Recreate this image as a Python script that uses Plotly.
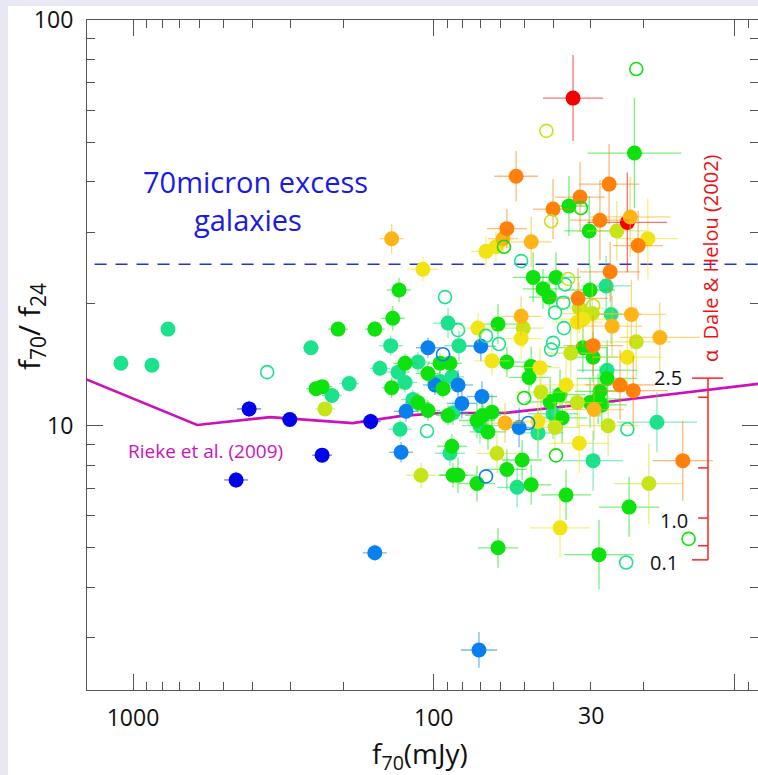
import numpy as np
import plotly.graph_objects as go

# ---------------- data ----------------
# f70 (mJy), f70/f24 ratio, colour class (alpha bin), filled(1)/open(0), error half-length in dex (x, y)
f70 = [1097, 865, 765, 411, 454, 358, 301, 235, 256, 246, 235, 218, 230, 208, 191, 162, 157, 151,
       138, 108.6, 130.4, 136.8, 91.7, 89.6, 139, 104.5, 93.1, 124.5, 131.4, 112.8, 124.5, 138, 104.5,
       95.3, 88.3, 99, 95.3, 93.1, 87, 117.2, 112.8, 104.5, 89.6, 123.6, 129.4, 105.3, 128.4, 88.3, 87,
       110.2, 86.3, 157, 70.7, 83, 71.3, 61.1, 67, 51.2, 50.4, 51.2, 60.7, 69.7, 82.4, 64, 57.1, 47.4,
       48.2, 44.3, 40.1, 40.7, 37.1, 39.5, 36.9, 46.7, 39.2, 35.7, 36.6, 43.3, 41.3, 33.1, 32.8, 29.5,
       29.7, 33.3, 31.9, 30.2, 26.7, 25.9, 25.7, 22.0, 25.5, 17.7, 21.2, 22.7, 35, 31.9, 29.5, 29.5,
       26.5, 26.5, 24, 21.7, 28, 28.4, 29.3, 30.2, 27.6, 33.3, 36.3, 38, 41, 44, 40.1, 37.4, 39.5, 45,
       45, 50, 69.1, 80.6, 83, 71.8, 70.2, 66, 64, 68.6, 57.9, 52, 48.5, 61.6, 50.8, 57.1, 39.2, 83,
       71.8, 67, 52.8, 47.4, 36.3, 32.8, 29.5, 14.85, 19.25, 18.1, 22.7, 26.3, 22.4, 38, 61.1, 28.2,
       22.9, 14.2, 21.2, 34.4, 42.2, 21.5, 53.2, 26.1, 32.6, 35.5, 32.4, 40.1, 28, 22.7, 22.2, 30.4,
       24.6, 40.7, 57.1, 58.8, 47.4, 67, 62.1, 58.4, 19.4, 20.9, 51.2, 86.3]
ratio = [14.25, 14.1, 17.3, 11.0, 7.35, 13.55, 10.36, 8.46, 15.57, 12.34, 12.48, 11.87, 11.0, 17.3,
         12.7, 10.24, 17.3, 13.85, 28.9, 24.3, 21.6, 18.4, 20.75, 17.9, 15.75, 15.57, 15.0, 14.25,
         13.55, 14.35, 12.78, 12.4, 13.45, 14.25, 14.25, 12.6, 12.85, 12.34, 13.2, 11.6, 11.4, 10.9,
         10.6, 10.85, 9.8, 9.7, 8.6, 8.55, 8.9, 7.55, 7.55, 4.86, 2.80, 17.2, 17.4, 17.8, 16.65, 18.6,
         17.4, 16.4, 15.9, 15.7, 15.75, 14.45, 14.35, 14.0, 13.15, 13.9, 16.0, 15.4, 20.1, 19.0, 17.4,
         23.2, 23.2, 23.0, 22.3, 21.75, 20.75, 20.6, 19.5, 19.75, 18.9, 18.0, 18.3, 21.6, 22.1, 23.95,
         18.8, 18.8, 17.6, 16.5, 16.1, 14.75, 15.1, 15.57, 15.75, 14.75, 13.7, 13.08, 12.6, 12.2,
         12.15, 11.65, 10.96, 11.4, 11.25, 11.4, 12.6, 11.93, 11.45, 12.1, 10.7, 10.45, 9.9, 10.24,
         9.6, 11.7, 11.8, 11.35, 12.6, 10.3, 10.0, 9.65, 10.8, 10.6, 10.15, 9.9, 10.15, 8.55, 8.23,
         7.8, 8.45, 7.55, 7.2, 7.5, 7.05, 7.15, 6.75, 9.05, 8.2, 8.2, 7.2, 10.2, 9.8, 10.0, 6.3, 5.6,
         5.0, 4.81, 4.6, 5.26, 75.7, 64.2, 53.3, 47.0, 41.2, 39.4, 36.6, 34.8, 34.4, 34.2, 32.1, 31.7,
         32.7, 30.2, 30.2, 31.9, 30.6, 28.9, 28.4, 26.9, 27.6, 27.6, 28.9, 27.8, 25.45, 10.75]
cls = ["T", "T", "T", "B", "B", "T", "B", "B", "T", "G", "G", "T", "Y1", "G", "T", "B", "G", "T",
       "O1", "Y", "G", "G", "T", "T", "T", "A", "A", "G", "T", "T", "T", "G", "G",
       "G", "G", "A", "T", "G", "T", "T", "G", "G", "G", "A", "T", "T", "A", "T", "G",
       "Y1", "G", "A", "A", "T", "Y", "G", "T", "O1", "Y1", "Y", "T", "A", "T", "Y", "G", "G",
       "G", "Y", "T", "T", "T", "T", "T", "G", "G", "Y1", "T", "G", "G", "O", "Y1", "Y1",
       "Y1", "Y", "Y", "G", "T", "O", "T", "O1", "O1", "O1", "Y1", "Y", "Y1", "G", "O", "G",
       "T", "G", "O", "O", "G", "G", "O1", "G", "G", "Y1", "Y", "G", "G", "Y1", "T", "G", "Y1", "Y",
       "T", "G", "A", "A", "A", "G", "T", "G", "G", "G", "O1", "A", "A", "Y1", "G", "G", "G", "G",
       "G", "A", "T", "G", "G", "Y", "T", "O", "Y1", "T", "T", "Y1", "G", "Y", "G", "G",
       "T", "G", "G", "R", "Y1", "G", "O", "O", "O", "G", "G", "O", "O", "R", "O1", "G",
       "Y1", "Y1", "O", "O1", "O1", "Y", "Y", "G", "Y", "O", "T", "T"]
filled = [1, 1, 1, 1, 1, 0, 1, 1, 1, 1, 1, 1, 1, 1, 1, 1, 1, 1,
          1, 1, 1, 1, 0, 1, 1, 1, 0, 1, 1, 1, 1, 1, 1,
          1, 1, 1, 1, 1, 1, 1, 1, 1, 1, 1, 1, 0, 1, 1, 1,
          1, 1, 1, 1, 0, 1, 1, 0, 1, 1, 1, 0, 1, 1, 1, 1, 1,
          1, 1, 0, 0, 0, 0, 0, 1, 1, 0, 0, 1, 1, 1, 1, 0,
          1, 1, 1, 1, 1, 1, 1, 1, 1, 1, 1, 1, 1, 1, 1, 1,
          1, 1, 1, 1, 1, 1, 1, 1, 1, 1, 1, 1, 1, 1, 1, 1, 1, 1,
          1, 0, 1, 1, 1, 1, 1, 1, 1, 1, 1, 1, 0, 1, 1, 1, 0, 1,
          1, 0, 1, 1, 1, 1, 1, 1, 1, 1, 0, 1, 1, 1, 1, 1,
          0, 0, 0, 1, 0, 1, 1, 1, 1, 1, 0, 1, 1, 1, 1, 1,
          1, 0, 1, 1, 1, 1, 1, 0, 1, 1, 0, 1]
ex = [0.02, 0.02, 0.02, 0.04, 0.04, 0, 0.027, 0.033, 0.027, 0.033, 0.033, 0.033, 0.033, 0.033, 0.033,
      0.033, 0.033, 0.033, 0.04, 0.05, 0.04, 0.04, 0, 0.05, 0.04, 0.04, 0, 0.04, 0.04, 0.04, 0.04,
      0.033, 0.04, 0.04, 0.04, 0.04, 0.04, 0.04, 0.04, 0.04, 0.04, 0.04, 0.04, 0.04, 0.04, 0, 0.04,
      0.05, 0.05, 0.05, 0.05, 0.04, 0.06, 0, 0.06, 0.067, 0, 0.067, 0.067, 0.067, 0, 0.05, 0.05,
      0.06, 0.06, 0.067, 0.067, 0.067, 0, 0, 0, 0, 0, 0.067, 0.083, 0, 0, 0.067, 0.067, 0.1, 0.083,
      0, 0.1, 0.083, 0.083, 0.083, 0.083, 0.1, 0.1, 0.116, 0.1, 0.133, 0.116, 0.116, 0.083, 0.083,
      0.1, 0.083, 0.1, 0.1, 0.116, 0.116, 0.083, 0.083, 0.1, 0.083, 0.083, 0.083, 0.083, 0.083,
      0.083, 0.083, 0.083, 0.083, 0.083, 0.083, 0.083, 0, 0.05, 0.05, 0.05, 0.06, 0.06, 0.06, 0.06,
      0.06, 0.067, 0.067, 0, 0.067, 0.067, 0.067, 0, 0.06, 0.06, 0, 0.067, 0.067, 0.083, 0.1, 0.1,
      0.1, 0.116, 0.133, 0, 0.1, 0.1, 0.1, 0.067, 0.116, 0, 0, 0, 0.1, 0, 0.156, 0.073, 0.1, 0.083,
      0.067, 0, 0.067, 0.1, 0.133, 0.133, 0.083, 0.1, 0, 0.067, 0.05, 0.067, 0.05, 0.05, 0, 0.1,
      0.083, 0, 0.05]
ey = [0.015, 0.015, 0.015, 0.02, 0.02, 0, 0.015, 0.015, 0.015, 0.015, 0.015, 0.015, 0.015, 0.015,
      0.02, 0.02, 0.02, 0.02, 0.037, 0.03, 0.03, 0.03, 0, 0.037, 0.025, 0.025, 0, 0.025, 0.025,
      0.025, 0.025, 0.025, 0.025, 0.025, 0.025, 0.025, 0.025, 0.025, 0.025, 0.025, 0.025, 0.025,
      0.025, 0.025, 0.025, 0, 0.025, 0.03, 0.03, 0.03, 0.03, 0.02, 0.044, 0, 0.037, 0.049, 0, 0.049,
      0.049, 0.049, 0, 0.037, 0.037, 0.037, 0.037, 0.049, 0.049, 0.049, 0, 0, 0, 0, 0, 0.062, 0.062,
      0, 0, 0.049, 0.049, 0.074, 0.062, 0, 0.074, 0.062, 0.062, 0.062, 0.074, 0.074, 0.074, 0.086,
      0.074, 0.086, 0.086, 0.086, 0.062, 0.062, 0.074, 0.062, 0.074, 0.074, 0.086, 0.086, 0.062,
      0.062, 0.074, 0.062, 0.062, 0.062, 0.062, 0.062, 0.062, 0.062, 0.062, 0.062, 0.062, 0.062,
      0.062, 0, 0.037, 0.037, 0.037, 0.044, 0.044, 0.044, 0.044, 0.044, 0.049, 0.049, 0, 0.049,
      0.049, 0.049, 0, 0.044, 0.044, 0, 0.049, 0.049, 0.062, 0.074, 0.074, 0.099, 0.099, 0.074, 0,
      0.074, 0.074, 0.074, 0.049, 0.086, 0, 0, 0, 0.106, 0, 0.136, 0.062, 0.099, 0.086, 0.074, 0,
      0.074, 0.099, 0.123, 0.099, 0.086, 0.074, 0, 0.049, 0.037, 0.062, 0.037, 0.037, 0, 0.099,
      0.086, 0, 0.03]

# Rieke et al. (2009) template track
rieke_f70 = [1500, 612, 350, 186, 129.4, 95.3, 57.9, 26.3, 7.5]
rieke_ratio = [13.2, 10.04, 10.5, 10.15, 10.56, 10.75, 10.75, 11.45, 12.8]
excess_limit = 25  # f70/f24 threshold for "70micron excess"

# Dale & Helou (2002) alpha scale: ratio positions of its ticks
alpha_labels = ["2.5", "1.0", "0.1"]
alpha_tick_ratio = [13.1, 11.75, 7.87, 5.92, 5.06, 4.67]

x_ticks = [1000, 100, 10]
x_ticktext = ["1000", "100", ""]
x_extra_label = 30
y_ticks = [10, 100]
y_ticktext = ["10", "100"]

# ---------------- styling ----------------
col = {"B": (0, 0, 235), "A": (10, 128, 240), "T": (28, 226, 140), "G": (14, 226, 14),
       "Y1": (198, 228, 24), "Y": (242, 228, 20), "O1": (253, 180, 22), "O": (255, 128, 10),
       "R": (245, 0, 0)}
order = ["T", "A", "B", "G", "Y1", "Y", "R", "O1", "O"]
FONT = "Open Sans"

f70 = np.array(f70, float); ratio = np.array(ratio, float)
ex = np.array(ex, float); ey = np.array(ey, float)
cls = np.array(cls); filled = np.array(filled)

fig = go.Figure()

fig.add_trace(go.Scatter(x=[3000, 4], y=[excess_limit, excess_limit], mode="lines",
                         line=dict(color="#2233dd", width=1.3, dash="12px,9px"),
                         hoverinfo="skip", showlegend=False))
fig.add_trace(go.Scatter(x=rieke_f70, y=rieke_ratio, mode="lines",
                         line=dict(color="#cc11bb", width=2.6), showlegend=False))

for c in order:
    m = (cls == c) & (filled == 1)
    if m.sum() == 0:
        continue
    x, y, dx, dy = f70[m], ratio[m], ex[m], ey[m]
    r, g, b = col[c]
    ecol = f"rgba({r},{g},{b},0.55)"
    fig.add_trace(go.Scatter(
        x=x, y=y, mode="markers",
        marker=dict(size=15, color=f"rgb({r},{g},{b})", line=dict(width=0)),
        error_x=dict(type="data", symmetric=False, array=x * (10 ** dx - 1),
                     arrayminus=x * (1 - 10 ** (-dx)), color=ecol, thickness=1.3, width=0),
        error_y=dict(type="data", symmetric=False, array=y * (10 ** dy - 1),
                     arrayminus=y * (1 - 10 ** (-dy)), color=ecol, thickness=1.3, width=0),
        showlegend=False))

for c in order:
    m = (cls == c) & (filled == 0)
    if m.sum() == 0:
        continue
    r, g, b = col[c]
    fig.add_trace(go.Scatter(
        x=f70[m], y=ratio[m], mode="markers",
        marker=dict(size=13, symbol="circle-open", color=f"rgb({r},{g},{b})",
                    line=dict(width=1.6, color=f"rgb({r},{g},{b})")),
        showlegend=False))

# alpha scale bar (Dale & Helou 2002)
red = "#ff2222"
xbar, xl, xr, xs = 12.24, 13.83, 10.9, 13.2
shapes = [dict(type="rect", xref="paper", yref="paper", x0=-0.1177, x1=1.02, y0=-0.14, y1=1.0209,
               fillcolor="white", line=dict(width=0), layer="below"),
          dict(type="line", xref="x", yref="y", x0=xbar, x1=xbar,
               y0=alpha_tick_ratio[0], y1=alpha_tick_ratio[-1], line=dict(color=red, width=1.5))]
shapes.append(dict(type="line", xref="x", yref="y", x0=xl, x1=xr, y0=alpha_tick_ratio[0],
                   y1=alpha_tick_ratio[0], line=dict(color=red, width=1.5)))
for yv in alpha_tick_ratio[1:-1]:
    shapes.append(dict(type="line", xref="x", yref="y", x0=xs, x1=xbar, y0=yv, y1=yv,
                       line=dict(color=red, width=1.5)))
shapes.append(dict(type="line", xref="x", yref="y", x0=xl, x1=xbar, y0=alpha_tick_ratio[-1],
                   y1=alpha_tick_ratio[-1], line=dict(color=red, width=1.5)))

ann = []
def A(text, x, y, size, color="#111", xanchor="center", yanchor="middle", angle=0, xref="paper", yref="paper"):
    ann.append(dict(text=text, x=x, y=y, xref=xref, yref=yref, showarrow=False, xanchor=xanchor,
                    yanchor=yanchor, textangle=angle, font=dict(family=FONT, size=size, color=color)))

A("70micron excess", 0.2504, 0.7597, 29, "#1a1ae6")
A("galaxies", 0.2399, 0.7015, 29, "#1a1ae6")
A("Rieke et al. (2009)", 0.1759, 0.3567, 19, "#cc11bb")
A("α  Dale &amp; Helou (2002)", 0.930, 0.6448, 20, "#ee1111", angle=-90)
A(alpha_labels[0], 0.8897, 0.4657, 20, xanchor="right")
A(alpha_labels[1], 0.8987, 0.2537, 20, xanchor="right")
A(alpha_labels[2], 0.8838, 0.191, 20, xanchor="right")
# annotation x on a log axis is given in log10 units
A(str(x_extra_label), float(np.log10(x_extra_label)), -0.0378, 23, xref="x")
A("f<sub>70</sub>(mJy)", 0.4963, -0.0975, 28)
A("f<sub>70</sub>/ f<sub>24</sub>", -0.0849, 0.5418, 30, angle=-90)

axis_common = dict(type="log", showgrid=False, zeroline=False, showline=True, linecolor="#555",
                   linewidth=1.2, mirror="ticks", ticks="inside", ticklen=16, tickwidth=1.2,
                   tickcolor="#555", tickfont=dict(family=FONT, size=23, color="#111"))

fig.update_layout(
    width=758, height=775, margin=dict(l=87, r=0, t=20, b=85),
    paper_bgcolor="#e8e8f4", plot_bgcolor="white", showlegend=False,
    xaxis=dict(range=[3.153, 0.9215], tickmode="array", tickvals=x_ticks, ticktext=x_ticktext,
               ticklabelstandoff=7,
               minor=dict(tickmode="array",
                          tickvals=[900, 800, 700, 600, 500, 400, 300, 200, 90, 80, 70, 60, 50, 40, 30, 20, 9, 8],
                          ticks="inside", ticklen=8, tickwidth=1, tickcolor="#555", showgrid=False),
               **axis_common),
    yaxis=dict(range=[0.3485, 2.0], tickmode="array", tickvals=y_ticks, ticktext=y_ticktext,
               ticklabelstandoff=8,
               minor=dict(tickmode="array",
                          tickvals=[3, 4, 5, 6, 7, 8, 9, 20, 30, 40, 50, 60, 70, 80, 90],
                          ticks="inside", ticklen=8, tickwidth=1, tickcolor="#555", showgrid=False),
               **axis_common),
    shapes=shapes, annotations=ann,
)

fig.write_html("out.html")
